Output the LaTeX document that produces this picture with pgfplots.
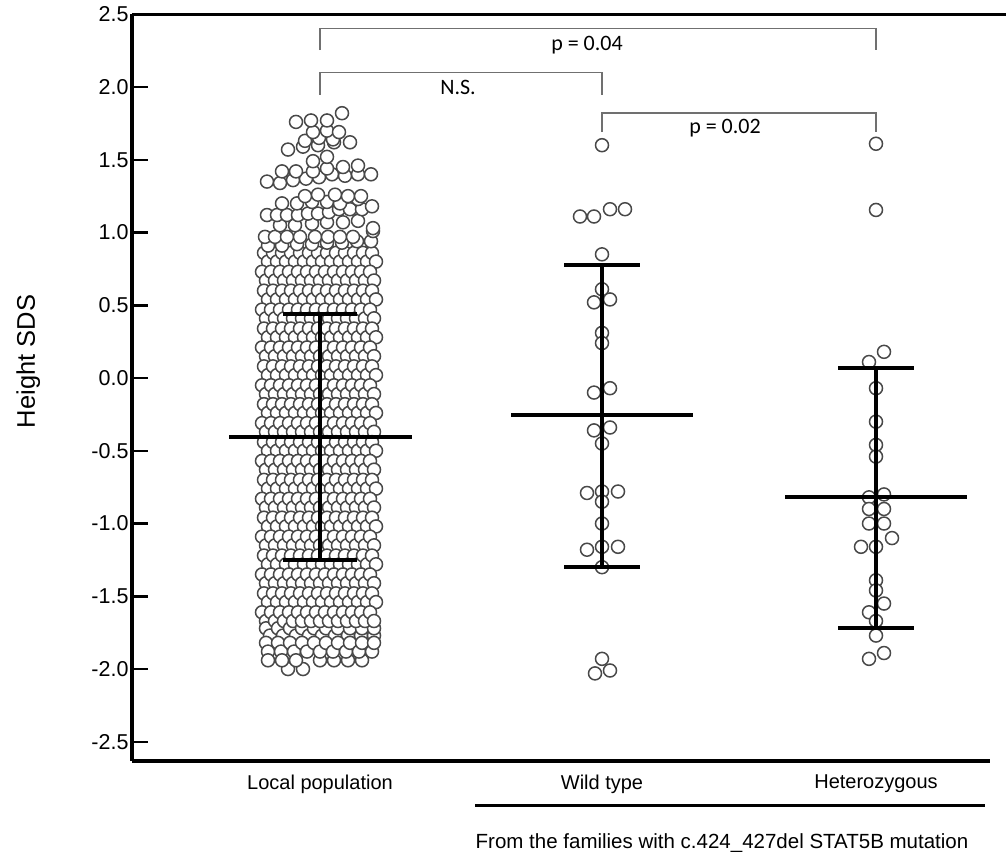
\documentclass[border=0pt]{standalone}
\usepackage{pgfplots}
\pgfplotsset{compat=1.18}
\usepackage{pgfplotstable}
\usepackage{fontspec}
\setmainfont{Liberation Sans}
\newfontfamily\calib{Carlito}
\definecolor{ring}{HTML}{484848}
\definecolor{brk}{HTML}{707070}

% local population, one row of circles per line (x in px-like units, nan = empty)
\pgfplotstableread{
y     a   b   c   d   e   f   g   h   i   j   k   l   m
0.86  264 273 282 291 300 309 318 327 336 345 354 363 372
0.80  268 277 286 295 304 313 322 331 340 349 358 367 376
0.73  262 271 280 289 298 307 316 325 334 343 352 361 370
0.67  266 275 284 293 302 311 320 329 338 347 356 365 374
0.60  264 273 282 291 300 309 318 327 336 345 354 363 372
0.54  268 277 286 295 304 313 322 331 340 349 358 367 376
0.47  262 271 280 289 298 307 316 325 334 343 352 361 370
0.41  266 275 284 293 302 311 320 329 338 347 356 365 374
0.34  264 273 282 291 300 309 318 327 336 345 354 363 372
0.28  268 277 286 295 304 313 322 331 340 349 358 367 376
0.21  262 271 280 289 298 307 316 325 334 343 352 361 370
0.15  266 275 284 293 302 311 320 329 338 347 356 365 374
0.08  264 273 282 291 300 309 318 327 336 345 354 363 372
0.02  268 277 286 295 304 313 322 331 340 349 358 367 376
-0.05 262 271 280 289 298 307 316 325 334 343 352 361 370
-0.11 266 275 284 293 302 311 320 329 338 347 356 365 374
-0.18 264 273 282 291 300 309 318 327 336 345 354 363 372
-0.24 268 277 286 295 304 313 322 331 340 349 358 367 376
-0.31 262 271 280 289 298 307 316 325 334 343 352 361 370
-0.37 266 275 284 293 302 311 320 329 338 347 356 365 374
-0.44 264 273 282 291 300 309 318 327 336 345 354 363 372
-0.50 268 277 286 295 304 313 322 331 340 349 358 367 376
-0.57 262 271 280 289 298 307 316 325 334 343 352 361 370
-0.63 266 275 284 293 302 311 320 329 338 347 356 365 374
-0.70 264 273 282 291 300 309 318 327 336 345 354 363 372
-0.76 268 277 286 295 304 313 322 331 340 349 358 367 376
-0.83 262 271 280 289 298 307 316 325 334 343 352 361 370
-0.89 266 275 284 293 302 311 320 329 338 347 356 365 374
-0.96 264 273 282 291 300 309 318 327 336 345 354 363 372
-1.02 268 277 286 295 304 313 322 331 340 349 358 367 376
-1.09 262 271 280 289 298 307 316 325 334 343 352 361 370
-1.15 266 275 284 293 302 311 320 329 338 347 356 365 374
-1.22 264 273 282 291 300 309 318 327 336 345 354 363 372
-1.28 268 277 286 295 304 313 322 331 340 349 358 367 376
-1.35 262 271 280 289 298 307 316 325 334 343 352 361 370
-1.41 266 275 284 293 302 311 320 329 338 347 356 365 374
-1.48 264 273 282 291 300 309 318 327 336 345 354 363 372
-1.54 268 277 286 295 304 313 322 331 340 349 358 367 376
-1.61 262 271 280 289 298 307 316 325 334 343 352 361 370
-1.67 266 275 284 293 302 311 320 329 338 347 356 365 374
-1.72 266 278 290 302 314 326 338 350 362 374 nan nan nan
-1.77 270 283 296 309 322 335 348 361 374 nan nan nan nan
-1.82 266 278 290 302 314 326 338 350 362 374 nan nan nan
-1.88 268 281 294 307 320 333 346 359 372 nan nan nan nan
-1.94 268 282 296 320 334 348 362 nan nan nan nan nan nan
-2.00 288 303 nan nan nan nan nan nan nan nan nan nan nan
}\localpop

\begin{document}
\begin{tikzpicture}
\begin{axis}[
  at={(0,0)}, anchor=south west,
  set layers,
  scale only axis, width=858bp, height=746.75bp,
  xmin=132, xmax=990, ymin=-2.632, ymax=2.5,
  axis x line*=bottom, axis y line*=left,
  axis line style={-, line width=3bp},
  xtick={320,602,876},
  xticklabels={Local population, Wild type, Heterozygous},
  ytick={-2.5,-2,...,2.5},
  tick align=inside,
  major tick length=16bp,
  xtick style={draw=none},
  ytick style={line width=2.5bp, black},
  yticklabel style={font=\fontsize{21.5bp}{24bp}\selectfont,
    /pgf/number format/.cd, fixed, fixed zerofill, precision=1, assume math mode=true},
  xticklabel style={font=\fontsize{20bp}{24bp}\selectfont, yshift=-10bp},
  ylabel={Height SDS},
  ylabel style={font=\fontsize{25.5bp}{28bp}\selectfont, at={(axis description cs:-0.121,0.535)}, anchor=center},
  clip=false,
  pop/.style={only marks, mark=*, mark size=6.5bp, mark options={draw=ring, fill=white, line width=1.5bp}},
  bar/.style={black, line width=4bp, on layer=axis foreground},
]

\pgfplotsinvokeforeach{a,b,c,d,e,f,g,h,i,j,k,l,m}{
  \addplot[pop] table[x=#1, y=y]{\localpop};
}
% sparse top of the local population
\addplot[pop] coordinates {
(268,0.91)(282,0.91)(297,0.92)(312,0.92)(327,0.93)(342,0.93)(357,0.94)(371,0.94)
(265,0.97)(275,0.97)(287,0.97)(300,0.97)(315,0.97)(328,0.97)(340,0.97)(353,0.97)(373,1.01)
(280,1.05)(295,1.05)(312,1.06)(327,1.07)(343,1.07)(358,1.08)(373,1.03)
(267,1.12)(277,1.12)(287,1.12)(298,1.12)(308,1.13)(318,1.13)(329,1.14)(339,1.16)(350,1.16)(362,1.16)
(282,1.20)(297,1.20)(312,1.21)(327,1.21)(340,1.20)(358,1.23)(372,1.18)
(305,1.25)(318,1.26)(335,1.26)(348,1.25)(361,1.25)
(267,1.35)(280,1.34)(293,1.36)(306,1.37)(319,1.38)(332,1.40)(345,1.39)(358,1.40)(371,1.40)
(282,1.42)(296,1.42)(313,1.42)(327,1.44)(343,1.45)(358,1.46)
(313,1.49)(327,1.52)
(288,1.57)(303,1.59)(318,1.60)(334,1.62)(350,1.62)
(305,1.63)(319,1.65)(333,1.64)
(313,1.69)(327,1.70)(339,1.69)
(296,1.76)(311,1.77)(327,1.77)
(342,1.82)
};
% wild type
\addplot[pop] coordinates {
(602,1.60)
(580,1.11)(594,1.11)(610,1.16)(625,1.16)
(602,0.85)
(602,0.61)(594,0.52)(610,0.54)
(602,0.31)(602,0.24)
(594,-0.10)(610,-0.07)
(594,-0.36)(610,-0.34)(602,-0.45)
(587,-0.79)(602,-0.78)(618,-0.78)
(602,-0.85)
(602,-1.00)
(587,-1.18)(602,-1.16)(618,-1.16)
(602,-1.30)
(602,-1.93)(595,-2.03)(610,-2.01)
};
% heterozygous
\addplot[pop] coordinates {
(876,1.61)
(876,1.155)
(869,0.11)(884,0.18)
(876,-0.07)
(876,-0.30)
(876,-0.46)(876,-0.54)
(869,-0.82)(884,-0.80)
(869,-0.90)(884,-0.90)
(869,-1.00)(884,-1.00)
(892,-1.10)
(861,-1.16)(876,-1.16)
(876,-1.39)(876,-1.46)
(884,-1.55)(869,-1.61)(876,-1.67)
(876,-1.77)
(869,-1.93)(884,-1.89)
};

% mean and SD
\addplot[bar] coordinates {(229,-0.405)(412,-0.405)};
\addplot[bar] coordinates {(283,0.44)(357,0.44)};
\addplot[bar] coordinates {(283,-1.25)(357,-1.25)};
\addplot[bar] coordinates {(320,0.44)(320,-1.25)};
\addplot[bar] coordinates {(511,-0.254)(693,-0.254)};
\addplot[bar] coordinates {(564,0.78)(640,0.78)};
\addplot[bar] coordinates {(564,-1.30)(640,-1.30)};
\addplot[bar] coordinates {(602,0.78)(602,-1.30)};
\addplot[bar] coordinates {(785,-0.82)(967,-0.82)};
\addplot[bar] coordinates {(838,0.07)(914,0.07)};
\addplot[bar] coordinates {(838,-1.72)(914,-1.72)};
\addplot[bar] coordinates {(876,0.07)(876,-1.72)};

% frame top
\draw[line width=3bp] (axis cs:132,2.5) -- (axis cs:1006,2.5);

% significance brackets
\draw[brk, line width=1.5bp] (axis cs:320,2.254) |- (axis cs:876,2.403) -- (axis cs:876,2.254);
\node[anchor=base, font=\calib\fontsize{22bp}{24bp}\selectfont] at (axis cs:587,2.254) {p = 0.04};
\draw[brk, line width=1.5bp] (axis cs:320,1.945) |- (axis cs:602,2.10) -- (axis cs:602,1.945);
\node[anchor=base, font=\calib\fontsize{22bp}{24bp}\selectfont] at (axis cs:458,1.945) {N.S.};
\draw[brk, line width=1.5bp] (axis cs:602,1.69) |- (axis cs:876,1.82) -- (axis cs:876,1.69);
\node[anchor=base, font=\calib\fontsize{22bp}{24bp}\selectfont] at (axis cs:725,1.677) {p = 0.02};

% group line and caption below
\draw[line width=3bp] (axis cs:475,-2.935) -- (axis cs:985,-2.935);
\node[anchor=base, font=\fontsize{20.5bp}{24bp}\selectfont] at (axis cs:722,-3.23)
  {From the families with c.424\_427del STAT5B mutation};
\end{axis}
\pgfresetboundingbox
\path[use as bounding box] (-132bp,-91bp) rectangle (874bp,761bp);
\end{tikzpicture}
\end{document}
